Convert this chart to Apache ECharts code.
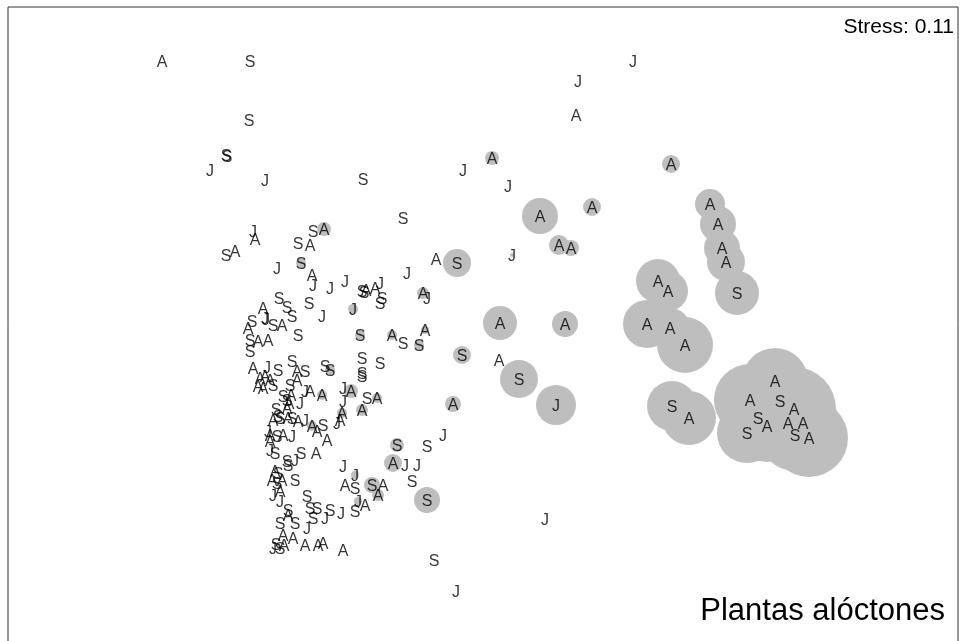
<!DOCTYPE html>
<html>
<head>
<meta charset="utf-8">
<script src="https://cdn.jsdelivr.net/npm/echarts@6/dist/echarts.min.js"></script>
<style>
  html, body { margin: 0; padding: 0; background: #fff; }
  #chart { width: 960px; height: 641px; }
</style>
</head>
<body>
<div id="chart"></div>
<script>
// NMDS ordination of sampling plots, labelled by season (A, S, J).
// Each row: [season, NMDS1, NMDS2, alien cover]; cover sets the grey circle radius (0 = none).

const outlyingPlots = [
  ['A',162,63,0],['S',250,63,0],['J',633,63,0],['J',578,83,0],['A',576,117,0],
  ['S',249,122,0],['S',226,157,0],['S',227,158,0],['J',210,172,0],['J',265,182,0],
  ['S',363,181,0],['J',463,172,0],['J',508,188,0],['S',403,220,0],
  ['J',545,521,0],['S',434,562,0],['J',456,593,0]
];

const middlePlots = [
  ['A',492,160,7],['A',671,166,9],['A',540,218,18],['A',592,209,9],['A',559,247,10],
  ['A',571,250,8],['J',512,257,2],['A',436,261,0],['S',457,265,14],['A',500,325,17],
  ['A',565,326,13],['S',462,357,9],['A',499,362,0],['S',519,381,19],['J',556,407,20],
  ['A',453,406,8],['A',425,332,4],['S',419,347,5],['A',423,295,6],['J',427,300,0]
];

const invadedPlots = [
  ['A',710,206,15],['A',718,226,18],['A',722,250,18],['A',726,264,19],['S',737,295,22],
  ['A',658,283,22],['A',668,293,20],['A',647,326,24],['A',670,330,20],['A',685,347,28],
  ['S',672,408,25],['A',689,420,27],
  ['A',775,383,33],['A',750,402,36],['S',780,403,36],['A',794,411,42],['S',758,420,36],
  ['A',767,428,36],['S',747,435,30],['A',788,425,36],['A',803,425,36],['S',795,437,36],
  ['A',809,440,39]
];

const upperClusterPlots = [
  ['J',253,233,0],['A',255,241,0],['A',235,253,0],['S',226,257,0],['S',313,233,0],
  ['A',324,231,7],['S',298,245,0],['A',310,247,0],['J',277,270,0],['S',301,265,5],
  ['A',312,277,0],['J',313,287,0],['J',330,290,0],['J',345,283,0],['S',279,300,0],
  ['S',287,309,0],['S',292,318,0],['S',309,305,0],['J',322,318,0],['A',263,310,0],
  ['J',265,320,0],['J',266,321,0],['S',273,327,0],['A',282,327,0],['S',252,323,0],
  ['A',248,330,0],['J',353,311,5],['S',298,337,0],['S',362,293,0],['S',364,294,0],
  ['A',366,292,0],['A',375,290,0],['J',380,285,0],['S',382,300,0],['S',380,305,0],
  ['J',407,275,0],['S',360,337,5],['A',392,337,5],['S',403,345,0]
];

const centralClusterPlots = [
  ['S',250,342,0],['A',258,343,0],['A',268,342,0],['S',250,353,0],['A',253,370,0],
  ['J',267,369,0],['S',278,372,0],['S',292,363,0],['A',297,373,0],['S',305,373,0],
  ['S',325,368,0],['S',330,372,5],['A',260,380,0],['A',265,378,0],['A',270,382,0],
  ['A',258,388,0],['A',263,390,0],['S',273,387,0],['S',290,387,0],['A',297,382,0],
  ['J',305,393,0],['A',310,393,0],['A',322,397,5],['J',343,390,0],['A',351,393,7],
  ['S',283,398,0],['S',287,402,0],['A',291,397,0],['A',289,405,0],['J',300,405,0],
  ['S',276,411,0],['S',278,418,0],['A',287,410,0],['J',343,403,0],['A',342,415,5],
  ['J',337,425,0],['A',340,422,0],['A',273,422,0],['S',280,420,0],['A',288,420,0],
  ['S',292,420,0],['A',298,423,0],['J',305,422,0],['A',312,428,5],['A',317,433,0],
  ['S',323,427,0],['A',327,442,0],['J',268,433,0],['A',270,437,0],['S',277,438,0],
  ['A',283,437,0],['J',292,438,0],['A',270,443,0],['J',270,452,0],
  ['S',362,360,0],['S',380,365,0],['S',362,375,0],['S',362,378,0],['S',367,400,0],
  ['A',377,400,5],['A',362,412,6]
];

const lowerClusterPlots = [
  ['S',275,455,0],['S',301,455,0],['A',316,455,0],['S',287,463,0],['J',295,462,0],
  ['S',288,467,0],['A',275,473,0],['S',278,475,0],['A',272,482,0],['A',282,482,0],
  ['S',295,482,0],['S',277,485,0],['A',280,493,0],['J',273,497,0],['J',280,503,0],
  ['S',288,512,0],['A',288,517,0],['S',280,525,0],['S',307,498,0],['S',310,510,0],
  ['S',317,510,0],['S',330,512,0],['J',341,515,0],['S',313,520,0],['J',325,520,0],
  ['S',295,525,0],['J',307,530,0],['A',283,537,0],['A',293,540,0],['J',273,550,0],
  ['S',276,546,0],['A',284,547,0],['S',280,550,0],['A',305,547,0],['A',318,547,0],
  ['A',323,545,0],['A',343,552,0],
  ['S',397,447,7],['S',427,448,0],['J',443,437,0],['A',393,465,9],['J',405,467,0],
  ['J',417,467,0],['J',343,468,0],['J',355,477,4],['A',345,487,0],['S',355,490,0],
  ['S',372,487,8],['A',383,487,0],['A',378,497,6],['S',412,483,0],['S',427,502,13],
  ['J',358,503,4],['A',365,507,0],['S',355,513,0]
];

const stressText = 'Stress: 0.11';
const panelTitle = 'Plantas alóctones';

const allPlots = [].concat(outlyingPlots, middlePlots, invadedPlots,
  upperClusterPlots, centralClusterPlots, lowerClusterPlots);
const letters = allPlots.map(r => [r[1], r[2], r[0]]);
const bubbles = allPlots.filter(r => r[3] > 0).map(r => [r[1], r[2], r[3]]);

const FONT = 'Liberation Sans, Arial, sans-serif';
const chart = echarts.init(document.getElementById('chart'), null, { renderer: 'canvas' });
const hiddenAxis = {
  show: true,
  axisLine: { show: false },
  axisTick: { show: false },
  axisLabel: { show: false },
  splitLine: { show: false }
};
chart.setOption({
  animation: false,
  backgroundColor: '#ffffff',
  textStyle: { fontFamily: FONT },
  grid: {
    left: 8, top: 7, width: 950, height: 640,
    outerBoundsMode: 'none',
    show: true, borderColor: '#333333', borderWidth: 1, backgroundColor: 'transparent'
  },
  xAxis: Object.assign({ type: 'value', min: 8, max: 958 }, hiddenAxis),
  yAxis: Object.assign({ type: 'value', min: 7, max: 647, inverse: true }, hiddenAxis),
  series: [
    {
      type: 'scatter',
      data: bubbles,
      symbol: 'circle',
      symbolSize: v => v[2] * 2,
      symbolOffset: [0, -2],
      itemStyle: { color: '#bebebe', opacity: 1 },
      silent: true,
      z: 1
    },
    {
      type: 'scatter',
      data: letters,
      symbolSize: 1,
      itemStyle: { color: 'rgba(0,0,0,0)' },
      label: {
        show: true,
        position: 'inside',
        offset: [0, 1],
        formatter: p => p.value[2],
        color: '#000000',
        fontSize: 16,
        fontFamily: FONT
      },
      labelLayout: { hideOverlap: false },
      silent: true,
      z: 2
    }
  ],
  graphic: [
    {
      type: 'text',
      right: 6, top: 17,
      style: { text: stressText, fontSize: 21, fill: '#000', fontFamily: FONT }
    },
    {
      type: 'text',
      right: 15, top: 596,
      style: { text: panelTitle, fontSize: 31, fill: '#000', fontFamily: FONT }
    }
  ]
});
</script>
</body>
</html>
